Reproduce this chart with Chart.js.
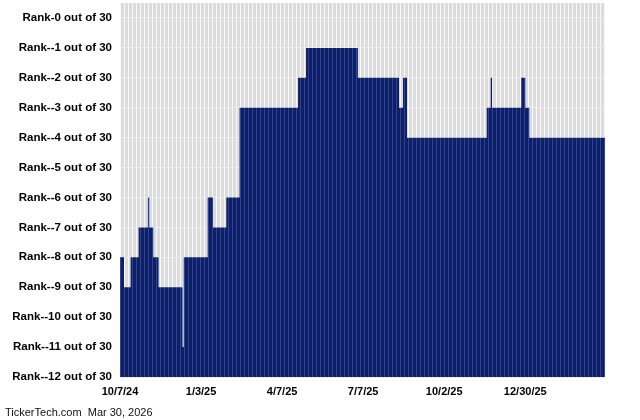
<!DOCTYPE html>
<html>
<head>
<meta charset="utf-8">
<title>Rank chart</title>
<script src="https://cdn.jsdelivr.net/npm/chart.js@4/dist/chart.umd.min.js"></script>
<style>
    body { margin: 0; background: #fff; }
    #wrap { position: relative; width: 640px; height: 420px; }
    #rankChart { display: block; }
    #footer {
        position: absolute;
        left: 5px;
        top: 406px;
        font: 11px "Liberation Sans", Arial, sans-serif;
        color: #111;
        white-space: pre;
    }
</style>
</head>
<body>
<div id="wrap">
    <canvas id="rankChart" width="640" height="420"></canvas>
    <div id="footer">TickerTech.com  Mar 30, 2026</div>
</div>
<script>
// Step data: trading day index where each rank starts
const stepDays  = [0, 3, 8, 14, 21, 22, 25, 29, 47, 48, 66, 70, 80, 90, 134, 140, 179, 210, 213, 216, 276, 279, 280, 302, 305, 308, 365];
const stepRanks = [-8, -9, -8, -7, -6, -7, -8, -9, -11, -8, -6, -7, -6, -3, -2, -1, -2, -3, -2, -4, -3, -2, -3, -2, -3, -4, -4];

// X axis ticks (trading day index) and their labels
const xTickDays   = [0, 61, 122, 183, 244, 305];
const xTickLabels = ['10/7/24', '1/3/25', '4/7/25', '7/7/25', '10/2/25', '12/30/25'];

// Y axis ticks
const yTickValues = [0, -1, -2, -3, -4, -5, -6, -7, -8, -9, -10, -11, -12];
const yTickLabels = ['Rank-0 out of 30', 'Rank--1 out of 30', 'Rank--2 out of 30', 'Rank--3 out of 30',
    'Rank--4 out of 30', 'Rank--5 out of 30', 'Rank--6 out of 30', 'Rank--7 out of 30',
    'Rank--8 out of 30', 'Rank--9 out of 30', 'Rank--10 out of 30', 'Rank--11 out of 30',
    'Rank--12 out of 30'];

// striped fill: one light line every 4px
function makeStripes(base, line) {
    const c = document.createElement('canvas');
    c.width = 4;
    c.height = 1;
    const g = c.getContext('2d');
    g.fillStyle = base;
    g.fillRect(0, 0, 4, 1);
    g.fillStyle = line;
    g.fillRect(0, 0, 1, 1);
    return g.createPattern(c, 'repeat');
}

document.addEventListener('DOMContentLoaded', function () {
    const ctx = document.getElementById('rankChart').getContext('2d');
    const grayStripes = makeStripes('#dcdcdc', '#f7f7f7');
    const navyStripes = makeStripes('#111f5a', '#2442b4');

    // paint chart area background before the grid
    const areaBackground = {
        id: 'areaBackground',
        beforeDraw(chart) {
            const a = chart.chartArea;
            chart.ctx.save();
            chart.ctx.fillStyle = grayStripes;
            chart.ctx.fillRect(a.left, a.top, a.right - a.left, a.bottom - a.top);
            chart.ctx.restore();
        }
    };

    new Chart(ctx, {
        type: 'line',
        data: {
            datasets: [{
                data: stepDays.map((d, i) => ({ x: d, y: stepRanks[i] })),
                stepped: true,
                fill: 'start',
                backgroundColor: navyStripes,
                borderWidth: 0,
                pointRadius: 0
            }]
        },
        options: {
            responsive: false,
            animation: false,
            layout: { padding: { top: 3, right: 35, bottom: 23, left: 0 } },
            plugins: {
                legend: { display: false },
                tooltip: { enabled: false }
            },
            scales: {
                x: {
                    type: 'linear',
                    min: 0,
                    max: 365,
                    grid: { display: false, drawTicks: false },
                    border: { display: false },
                    afterBuildTicks: (scale) => { scale.ticks = xTickDays.map(v => ({ value: v })); },
                    afterFit: (scale) => { scale.height = 20; scale.paddingLeft = 0; scale.paddingRight = 0; },
                    ticks: {
                        padding: 8,
                        maxRotation: 0,
                        autoSkip: false,
                        color: '#000',
                        font: { family: '"Liberation Sans", Arial, sans-serif', size: 11, weight: 'bold' },
                        callback: (v) => xTickLabels[xTickDays.indexOf(v)]
                    }
                },
                y: {
                    min: -12,
                    max: 0.5,
                    grid: { color: '#ececec', drawTicks: false },
                    border: { display: false },
                    afterBuildTicks: (scale) => { scale.ticks = yTickValues.map(v => ({ value: v })); },
                    afterFit: (scale) => { scale.width = 120; scale.paddingTop = 0; scale.paddingBottom = 0; },
                    ticks: {
                        padding: 8,
                        color: '#000',
                        font: { family: '"Liberation Sans", Arial, sans-serif', size: 11.5, weight: 'bold' },
                        callback: (v) => yTickLabels[yTickValues.indexOf(v)]
                    }
                }
            }
        },
        plugins: [areaBackground]
    });
});
</script>
</body>
</html>
